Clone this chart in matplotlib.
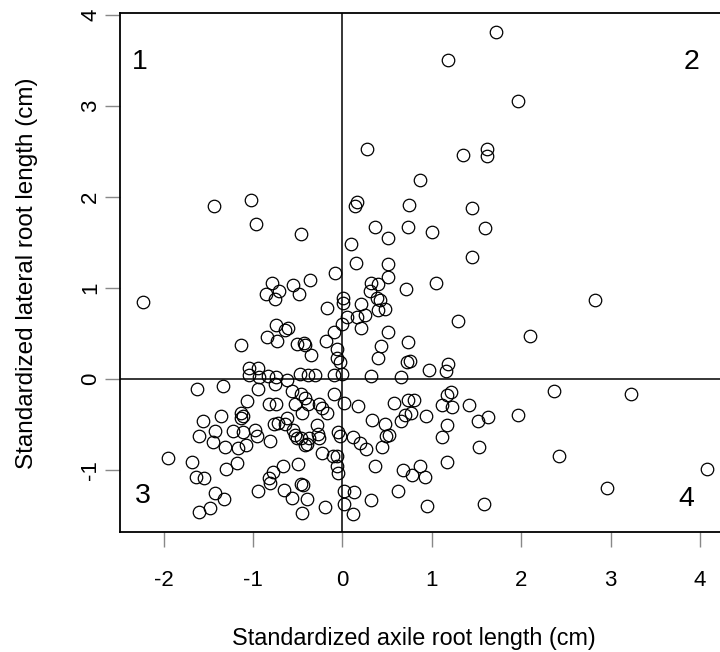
import matplotlib
matplotlib.use("Agg")
import matplotlib.pyplot as plt

plt.rcParams['font.family'] = ['Liberation Sans', 'DejaVu Sans']
plt.rcParams['axes.unicode_minus'] = False

# standardized axile root length (x) and lateral root length (y)
axile = [1.72, 1.18, 1.96, 0.27, 1.35, 1.62, 1.62, 0.87,
         -1.44, -1.02, -0.97, -0.46, -2.23,
         -0.79, -0.86, -0.71, -0.75, -0.55, -0.49, -0.36,
         0.16, 0.14, 0.74, 1.45, 0.36, 0.73, 1.00, 1.59, 0.51, 0.09, 1.45, 0.15, 0.51,
         -0.08, 0.51, 0.32, 0.40, 0.31, 1.05, 0.71, 0.39, 0.42, 0.40, 0.48, 0.01, 0.01,
         0.21, -0.17, 0.16, 0.25, 0.05, 0.00, 0.21, -0.10, 1.29, 0.51, -0.18, -0.06,
         0.43, 0.73, 2.10, -0.06, -0.03, 0.40, 0.72, 0.76, 0.97, 1.18, 1.16, 0.32, 0.65,
         2.82,
         -0.74, -0.61, -0.64, -0.84, -0.73, -1.14, -0.51, -0.43, -0.42, -0.35, -1.05, -0.95,
         -1.05, -0.93, -0.83, -0.74, -0.75, -0.62, -0.47, -0.39, -0.31, -0.10, -0.01,
         -1.63, -1.34, -0.95, -0.57, -0.46, -0.42, -0.39, -0.53, -0.45, -0.26, -0.23,
         -1.07, -0.82, -0.74, -1.13, -1.11, -1.14, -1.56, -1.36, -1.43, -1.22, -1.11,
         -0.98, -0.96, -0.77, -0.72, -0.64, -0.62, -0.55, -0.53, -0.51, -0.46, -0.42,
         -0.38, -0.40, -0.28, -0.27, -0.26, -1.61, -1.45, -1.31, -1.17, -1.08, -0.81,
         -0.23, -1.95, -1.68, -1.18, -1.30, -1.64, -1.55, -0.78, -0.67, -0.50, -0.82,
         -0.81, -0.46, -0.44, -1.43, -1.33, -0.95, -0.65, -0.56, -0.40, -1.61, -1.48,
         -0.45, -0.20,
         -0.09, 0.02, -0.17, 0.17, 0.58, 0.73, 0.80, 0.77, 0.70, 0.65, 0.93, 0.33, 0.48,
         0.49, 0.52, 0.44, 0.12, 0.20, 0.26, -0.05, -0.03, -0.11, -0.06, -0.06, -0.05,
         0.36, 0.68, 0.78, 0.87, 0.92, 1.11, 1.17, 1.11, 1.22, 1.17, 1.21, 1.42, 1.52,
         1.63, 1.96, 1.53, 1.17, 0.02, 0.13, 0.32, 0.62, 0.02, 0.12, 0.95, 1.58,
         2.37, 3.23, 2.42, 2.96, 4.08]
lateral = [3.81, 3.51, 3.05, 2.53, 2.46, 2.53, 2.45, 2.19,
           1.90, 1.97, 1.70, 1.59, 0.85,
           1.06, 0.93, 0.97, 0.88, 1.03, 0.93, 1.09,
           1.95, 1.90, 1.91, 1.88, 1.67, 1.67, 1.62, 1.66, 1.55, 1.48, 1.34, 1.28, 1.26,
           1.17, 1.12, 1.06, 1.04, 0.97, 1.06, 0.99, 0.89, 0.87, 0.76, 0.77, 0.89, 0.83,
           0.82, 0.78, 0.68, 0.70, 0.68, 0.61, 0.56, 0.52, 0.64, 0.52, 0.42, 0.33,
           0.36, 0.41, 0.47, 0.23, 0.19, 0.23, 0.19, 0.20, 0.10, 0.16, 0.09, 0.03, 0.02,
           0.87,
           0.59, 0.56, 0.54, 0.46, 0.42, 0.37, 0.38, 0.40, 0.37, 0.26, 0.12, 0.12,
           0.04, 0.02, 0.03, 0.02, -0.05, -0.01, 0.05, 0.04, 0.04, 0.04, 0.06,
           -0.11, -0.08, -0.11, -0.13, -0.16, -0.21, -0.27, -0.27, -0.37, -0.27, -0.32,
           -0.24, -0.27, -0.27, -0.37, -0.41, -0.43, -0.46, -0.41, -0.57, -0.57, -0.58,
           -0.56, -0.63, -0.49, -0.48, -0.49, -0.43, -0.56, -0.62, -0.65, -0.65, -0.73,
           -0.65, -0.71, -0.51, -0.60, -0.65, -0.63, -0.69, -0.75, -0.76, -0.73, -0.68,
           -0.81, -0.87, -0.91, -0.92, -0.99, -1.08, -1.09, -1.02, -0.96, -0.93, -1.09,
           -1.14, -1.15, -1.17, -1.25, -1.32, -1.23, -1.22, -1.31, -1.32, -1.46, -1.42,
           -1.47, -1.41,
           -0.16, -0.26, -0.37, -0.30, -0.26, -0.23, -0.23, -0.37, -0.40, -0.46, -0.41, -0.45, -0.49,
           -0.63, -0.62, -0.75, -0.64, -0.70, -0.77, -0.58, -0.63, -0.85, -0.85, -0.96, -1.03,
           -0.96, -1.00, -1.05, -0.96, -1.08, -0.64, -0.50, -0.29, -0.31, -0.18, -0.14, -0.29, -0.46,
           -0.42, -0.40, -0.75, -0.91, -1.23, -1.24, -1.33, -1.23, -1.37, -1.48, -1.39, -1.37,
           -0.13, -0.17, -0.85, -1.20, -0.99]

quad_labels = ['1', '2', '3', '4']
xticks = [-2, -1, 0, 1, 2, 3, 4]
yticks = [-1, 0, 1, 2, 3, 4]

fig = plt.figure(figsize=(7.2, 6.52), dpi=100)
ax = fig.add_axes([120 / 720, 120 / 652, 610 / 720, 519 / 652])

ax.plot(axile, lateral, 'o', mfc='none', mec='black', ms=9, mew=0.9)
ax.axvline(0, color='black', lw=1.1)
ax.axhline(0, color='black', lw=1.1)

ax.set_xlim(-2.489, 4.335)
ax.set_ylim(-1.681, 4.022)
ax.set_xticks(xticks)
ax.set_yticks(yticks)
ax.set_xticklabels([str(t) for t in xticks])
ax.set_yticklabels([str(t) for t in yticks], rotation=90, va='center')
ax.tick_params(length=10.5, width=1, color='#888888', labelsize=16)
ax.tick_params(axis='x', pad=17)
ax.tick_params(axis='y', pad=3)
for s in ax.spines.values():
    s.set_linewidth(1.3)

pos = [(0.033, 0.892), (0.937, 0.892), (0.037, 0.055), (0.928, 0.050)]
for lab, (px, py) in zip(quad_labels, pos):
    ax.text(px, py, lab, transform=ax.transAxes, ha='center', va='baseline', fontsize=20.5)

fig.text(414 / 720, 1 - 645 / 652, 'Standardized axile root length (cm)',
         ha='center', va='baseline', fontsize=16.8)
fig.text(27 / 720, 1 - 273 / 652, 'Standardized lateral root length (cm)',
         ha='center', va='center', rotation=90, fontsize=17.5)

fig.savefig('out.png', dpi=100)
